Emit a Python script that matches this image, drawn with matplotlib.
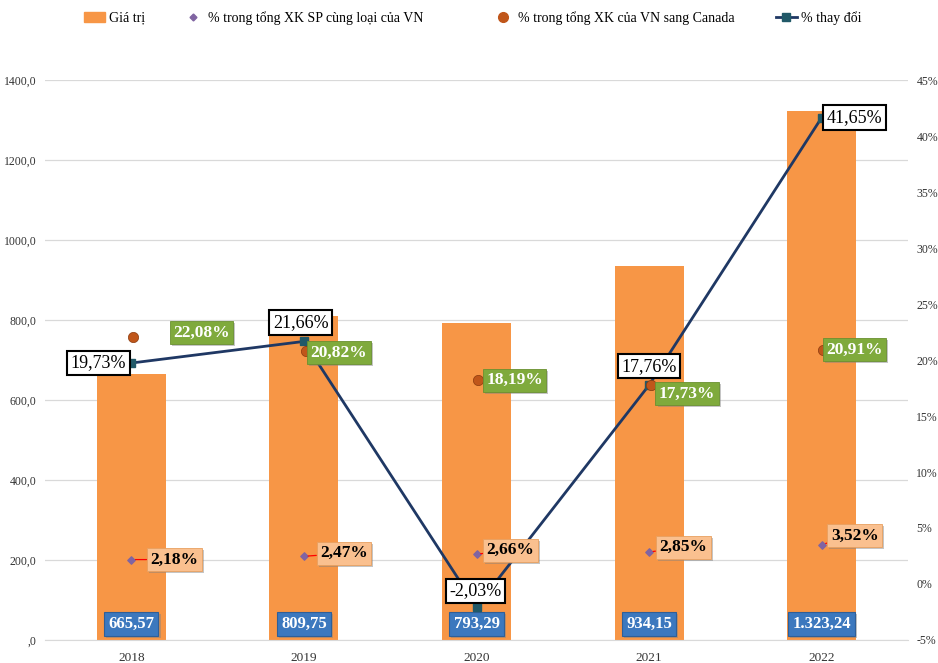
import matplotlib
matplotlib.use("Agg")
import matplotlib.pyplot as plt
from matplotlib.lines import Line2D
from matplotlib.patches import Patch
import matplotlib.patheffects as pe
import numpy as np

plt.rcParams['font.family'] = ['Liberation Serif', 'DejaVu Serif']

years = ['2018', '2019', '2020', '2021', '2022']
values = [665.57, 809.75, 793.29, 934.15, 1323.24]
value_labels = ['665,57', '809,75', '793,29', '934,15', '1.323,24']
share_same = [2.18, 2.47, 2.66, 2.85, 3.52]
share_same_labels = ['2,18%', '2,47%', '2,66%', '2,85%', '3,52%']
share_canada = [22.08, 20.82, 18.19, 17.73, 20.91]
share_canada_labels = ['22,08%', '20,82%', '18,19%', '17,73%', '20,91%']
change = [19.73, 21.66, -2.03, 17.76, 41.65]
change_labels = ['19,73%', '21,66%', '-2,03%', '17,76%', '41,65%']
left_ticks = [0, 200, 400, 600, 800, 1000, 1200, 1400]
left_tick_labels = [',0', '200,0', '400,0', '600,0', '800,0', '1000,0', '1200,0', '1400,0']
right_ticks = [-5, 0, 5, 10, 15, 20, 25, 30, 35, 40, 45]
right_tick_labels = ['-5%', '0%', '5%', '10%', '15%', '20%', '25%', '30%', '35%', '40%', '45%']

BAR = '#F79646'
LINE = '#1F3864'
SQ = '#215968'
BLUE = '#3C78BE'
GREEN = '#7FAA3C'
PEACH = '#FAC08F'

fig = plt.figure(figsize=(9.38, 6.63), dpi=100)
ax = fig.add_axes([0.048, 0.0347, 0.92, 0.8446])
ax2 = ax.twinx()

x = np.arange(len(years))
ax.bar(x, values, width=0.40, color=BAR, zorder=2)
ax.set_xlim(-0.5, len(years) - 0.5)
ax.set_ylim(0, 1400)
ax.set_yticks(left_ticks)
ax.set_yticklabels(left_tick_labels, fontsize=8.5, color='#333333')
ax.set_xticks(x)
ax.set_xticklabels(years, fontsize=9.5, color='#333333')
ax.tick_params(axis='y', length=0, pad=6)
ax.tick_params(axis='x', length=0, pad=9)
ax.grid(axis='y', color='#D9D9D9', linewidth=0.9, zorder=0)
ax.set_axisbelow(True)
for s in ax.spines.values():
    s.set_visible(False)
ax.spines['bottom'].set_visible(True)
ax.spines['bottom'].set_color('#D9D9D9')

ax2.set_ylim(-5, 45)
ax2.set_yticks(right_ticks)
ax2.set_yticklabels(right_tick_labels, fontsize=8.5, color='#333333')
ax2.tick_params(axis='y', length=0, pad=6)
for s in ax2.spines.values():
    s.set_visible(False)

ax2.plot(x, change, color=LINE, lw=2, marker='s', markersize=6,
         markerfacecolor=SQ, markeredgecolor=SQ, zorder=5)
ax2.scatter(x + 0.01, share_canada, s=55, color='#C0561A', edgecolors='#8A3A0E',
            linewidths=0.5, zorder=6)
ax2.scatter(x, share_same, s=14, marker='D', color='#8064A2', zorder=7)

SHADOW = [pe.withSimplePatchShadow(offset=(1.5, -1.5), shadow_rgbFace='#808080', alpha=0.45)]


def add_shadow(t):
    t.get_bbox_patch().set_path_effects(SHADOW)


# value labels (blue boxes)
for i, lab in enumerate(value_labels):
    t = ax.annotate(lab, xy=(i, 0), xytext=(0, 16), textcoords='offset pixels',
                    ha='center', va='center', fontsize=12, fontweight='bold', color='white',
                    bbox=dict(boxstyle='square,pad=0.25', fc=BLUE, ec='#2F5F98', lw=0.8), zorder=10)
    add_shadow(t)

# share of same product (peach)
peach_off = [(43, 0), (40, 3), (34, 4), (34, 5), (33, 9)]
for i, lab in enumerate(share_same_labels):
    dx, dy = peach_off[i]
    t = ax2.annotate(lab, xy=(i, share_same[i]), xytext=(dx, dy), textcoords='offset pixels',
                     ha='center', va='center', fontsize=12.5, fontweight='bold', color='black',
                     bbox=dict(boxstyle='square,pad=0.2', fc=PEACH, ec='#E8A060', lw=0.6),
                     arrowprops=dict(arrowstyle='-', color='red', lw=0.9, shrinkA=0, shrinkB=3),
                     zorder=10)
    add_shadow(t)

# share of Canada exports (green)
green_off = [(70, 4), (35, -2), (38, 0), (38, -8), (33, 0)]
for i, lab in enumerate(share_canada_labels):
    dx, dy = green_off[i]
    t = ax2.annotate(lab, xy=(i, share_canada[i]), xytext=(dx, dy), textcoords='offset pixels',
                     ha='center', va='center', fontsize=12.5, fontweight='bold', color='white',
                     bbox=dict(boxstyle='square,pad=0.2', fc=GREEN, ec='#6A9030', lw=0.6),
                     zorder=10)
    add_shadow(t)

# change labels (white boxes)
chg_off = [(-33, 0), (-3, 19), (-1, 16), (0, 19), (33, 0)]
for i, lab in enumerate(change_labels):
    dx, dy = chg_off[i]
    ax2.annotate(lab, xy=(i, change[i]), xytext=(dx, dy), textcoords='offset pixels',
                 ha='center', va='center', fontsize=13, color='black',
                 bbox=dict(boxstyle='square,pad=0.2', fc='white', ec='black', lw=1.5),
                 zorder=11)

handles = [
    Patch(facecolor=BAR, edgecolor=BAR),
    Line2D([], [], ls='none', marker='D', markersize=3.5, color='#8064A2'),
    Line2D([], [], ls='none', marker='o', markersize=7, color='#C0561A'),
    Line2D([], [], color=LINE, lw=2, marker='s', markersize=6,
           markerfacecolor=SQ, markeredgecolor=SQ),
]
labels = ['Giá trị', '% trong tổng XK SP cùng loại của VN',
          '% trong tổng XK của VN sang Canada', '% thay đổi']
anchors_px = [84, 183, 493, 776]
for h, l, a in zip(handles, labels, anchors_px):
    fig.legend([h], [l], loc='center left', bbox_to_anchor=(a / 938, 1 - 18 / 663),
               frameon=False, fontsize=10, handlelength=1.5, handletextpad=0.3,
               borderpad=0, borderaxespad=0)

fig.savefig('out.png', dpi=100)
